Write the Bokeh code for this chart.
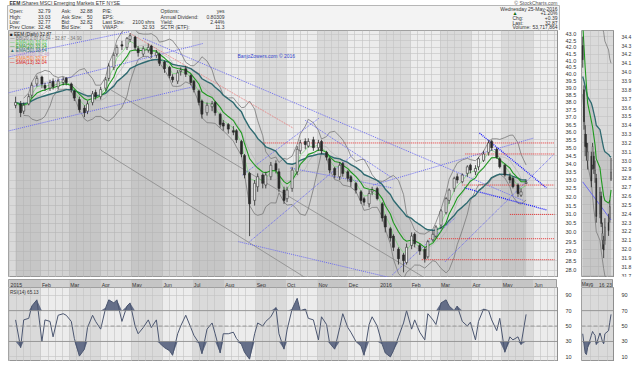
import numpy as np
import pandas as pd
from bokeh.plotting import figure
from bokeh.layouts import column, row
from bokeh.models import (Range1d, FixedTicker, DaysTicker, BoxAnnotation, Label, Span,
                          ColumnDataSource, NumeralTickFormatter)
from bokeh.embed import file_html
from bokeh.resources import INLINE
from bokeh.core.properties import value

FONT = "Liberation Sans"

# ---------------- EEM, one bar every third session, Jan 2015 - 25 May 2016 ----------------
close = [
    38.0, 37.3, 37.8, 38.4, 39.2, 39.7, 39.3,
    39.0, 39.4, 39.1, 39.5, 39.6, 39.4,
    38.9, 38.3, 37.5, 37.3, 37.9, 38.6, 38.4, 38.9,
    39.6, 40.6, 41.4, 42.0, 42.1, 42.7, 42.9,
    42.0, 41.6, 41.9, 42.0, 41.5, 41.6, 40.8,
    40.4, 39.9, 39.6, 40.1, 40.3, 40.0, 39.4,
    38.9, 38.0, 37.2, 37.8, 37.9, 37.3, 36.5, 36.4,
    36.2, 36.0, 35.5, 34.6, 33.3, 31.6, 32.8,
    33.2, 32.8, 33.3, 33.9, 33.6, 32.5, 31.8,
    32.4, 33.6, 34.9, 35.3, 35.2, 35.4, 35.0,
    35.3, 34.8, 34.4, 33.6, 33.3, 33.9, 33.4,
    33.1, 32.9, 32.4, 31.8, 31.7, 32.2, 32.4, 31.9,
    30.8, 30.3, 29.7, 29.2, 28.6, 28.5, 29.2,
    29.8, 29.4, 29.0, 28.6, 29.5, 29.9, 30.3,
    31.2, 31.9, 32.4, 33.1, 33.0, 33.3, 33.8,
    33.6, 33.7, 34.3, 34.6, 35.3, 35.0, 34.4,
    33.8, 33.3, 33.0, 32.6, 32.2, 32.3, 32.87,
]
open_ = [
    37.8, 37.9, 37.4, 37.9, 38.5, 39.3, 39.8,
    39.2, 39.0, 39.5, 39.1, 39.4, 39.7,
    39.3, 38.8, 38.2, 37.6, 37.4, 38.0, 38.7, 38.4,
    39.0, 39.7, 40.5, 41.5, 42.2, 42.0, 42.6,
    42.8, 41.9, 41.5, 41.8, 42.1, 41.4, 41.5,
    40.9, 40.5, 39.8, 39.5, 40.2, 40.4, 39.9,
    39.5, 38.8, 38.1, 37.3, 37.7, 38.0, 37.2, 36.6,
    36.5, 36.1, 36.1, 35.4, 34.5, 33.4, 31.8,
    32.6, 33.3, 32.7, 33.2, 34.0, 33.5, 32.4,
    31.9, 32.5, 33.5, 34.8, 35.4, 35.1, 35.5,
    35.0, 35.4, 34.7, 34.3, 33.7, 33.2, 34.0,
    33.5, 33.2, 32.8, 32.3, 31.9, 31.6, 32.3, 32.5,
    31.6, 30.9, 30.2, 29.8, 29.1, 28.8, 28.4,
    29.3, 29.9, 29.3, 29.1, 28.7, 29.6, 29.8,
    30.4, 31.1, 31.8, 32.5, 33.2, 32.9, 33.4,
    33.9, 33.5, 33.8, 34.2, 34.7, 35.4, 34.9,
    34.3, 33.9, 33.2, 33.1, 32.7, 32.1, 32.79,
]
high = [
    38.4, 38.1, 38.0, 38.6, 39.4, 39.9, 39.9,
    39.4, 39.6, 39.7, 39.7, 39.8, 39.8,
    39.4, 38.9, 38.4, 37.8, 38.1, 38.8, 38.9, 39.1,
    39.8, 40.8, 41.6, 42.2, 42.5, 42.8, 43.1,
    42.9, 42.1, 42.1, 42.3, 42.2, 41.8, 41.6,
    41.0, 40.6, 40.0, 40.3, 40.5, 40.6, 40.0,
    39.6, 38.9, 38.2, 38.0, 38.1, 38.1, 37.3, 36.8,
    36.6, 36.4, 36.2, 35.5, 34.6, 33.5, 33.0,
    33.4, 33.4, 33.5, 34.1, 34.2, 33.7, 32.6,
    32.6, 33.8, 35.1, 35.5, 35.6, 35.6, 35.7,
    35.5, 35.5, 34.8, 34.4, 33.8, 34.1, 34.1,
    33.6, 33.3, 32.9, 32.4, 32.0, 32.4, 32.6, 32.6,
    31.7, 31.0, 30.3, 29.9, 29.2, 28.9, 29.4,
    30.0, 30.0, 29.4, 29.2, 29.6, 30.1, 30.4,
    31.3, 32.0, 32.5, 33.2, 33.4, 33.4, 33.9,
    34.0, 33.9, 34.4, 34.8, 35.5, 35.5, 35.0,
    34.4, 34.0, 33.4, 33.2, 32.8, 32.5, 33.03,
]
low = [
    37.6, 37.0, 37.2, 37.8, 38.3, 39.1, 39.0,
    38.8, 38.8, 38.9, 38.9, 39.2, 39.2,
    38.7, 38.1, 37.3, 37.0, 37.2, 37.8, 38.2, 38.2,
    38.8, 39.5, 40.3, 41.3, 41.8, 41.8, 42.4,
    41.8, 41.3, 41.3, 41.6, 41.2, 41.2, 40.6,
    40.1, 39.7, 39.4, 39.3, 39.9, 39.8, 39.2,
    38.7, 37.8, 36.9, 37.1, 37.4, 37.1, 36.3, 36.1,
    35.9, 35.8, 35.3, 34.4, 33.1, 29.8, 31.5,
    32.3, 32.5, 32.5, 33.0, 33.4, 32.3, 31.6,
    31.7, 32.3, 33.3, 34.6, 34.9, 35.0, 34.8,
    34.8, 34.6, 34.2, 33.4, 33.1, 33.0, 33.2,
    32.9, 32.6, 32.2, 31.6, 31.5, 31.4, 32.1, 31.8,
    30.6, 30.0, 29.5, 29.0, 28.3, 27.9, 28.3,
    29.1, 29.2, 28.8, 28.4, 28.6, 29.5, 29.7,
    30.2, 31.0, 31.6, 32.3, 32.8, 32.8, 33.2,
    33.4, 33.3, 33.6, 34.1, 34.5, 34.8, 34.3,
    33.7, 33.2, 32.8, 32.5, 32.0, 32.0, 32.77,
]
rsi14 = [
    58, 22, 58, 60, 76, 84, 30, 58, 56, 36,
    64, 66, 64, 56, 34, 11, 20, 48, 64, 56,
    46, 74, 84, 80, 84, 56, 76, 80, 50, 40,
    48, 58, 48, 58, 28, 22, 18, 12, 40, 50,
    64, 48, 38, 28, 14, 46, 54, 40, 15, 40,
    40, 42, 34, 26, 16, 7, 40, 54, 50, 56,
    62, 74, 40, 20, 45, 72, 86, 70, 72, 60,
    58, 32, 62, 52, 28, 20, 48, 66, 48, 42,
    30, 24, 12, 52, 62, 50, 26, 15, 10, 18,
    36, 54, 70, 46, 58, 42, 32, 66, 58, 52,
    80, 84, 76, 70, 76, 56, 50, 55, 32, 56,
    72, 70, 58, 44, 60, 16, 36, 32, 36, 26,
    65.13,
]

month_ticks = ["2015-01-01", "2015-02-01", "2015-03-01", "2015-04-01", "2015-05-01", "2015-06-01",
               "2015-07-01", "2015-08-01", "2015-09-01", "2015-10-01", "2015-11-01", "2015-12-01",
               "2016-01-01", "2016-02-01", "2016-03-01", "2016-04-01", "2016-05-01", "2016-06-01"]
month_labels = ["2015", "Feb", "Mar", "Apr", "May", "Jun", "Jul", "Aug", "Sep", "Oct", "Nov", "Dec",
                "2016", "Feb", "Mar", "Apr", "May", "Jun"]
price_ticks = [28.0, 28.5, 29.0, 29.5, 30.0, 30.5, 31.0, 31.5, 32.0, 32.5, 33.0, 33.5, 34.0, 34.5,
               35.0, 35.5, 36.0, 36.5, 37.0, 37.5, 38.0, 38.5, 39.0, 39.5, 40.0, 40.5, 41.0, 41.5,
               42.0, 42.5, 43.0]
rsi_ticks = [10, 30, 50, 70, 90]

# ---------------- inset: May 2016 daily ----------------
mini_days = ["2016-05-02", "2016-05-03", "2016-05-04", "2016-05-05", "2016-05-06", "2016-05-09",
             "2016-05-10", "2016-05-11", "2016-05-12", "2016-05-13", "2016-05-16", "2016-05-17",
             "2016-05-18", "2016-05-19", "2016-05-20", "2016-05-23", "2016-05-24", "2016-05-25"]
mini_open = [34.30, 33.80, 33.30, 33.20, 33.00, 33.05, 32.95, 33.05, 32.85, 32.80, 32.40, 32.60,
             32.10, 32.05, 32.10, 32.30, 32.35, 32.79]
mini_close = [34.14, 33.44, 33.16, 33.15, 33.10, 32.77, 33.16, 32.91, 32.89, 32.37, 32.64, 32.29,
              32.18, 31.99, 32.25, 32.21, 32.48, 32.87]
mini_high = [34.40, 33.85, 33.40, 33.30, 33.20, 33.10, 33.20, 33.10, 33.00, 32.85, 32.70, 32.65,
             32.30, 32.15, 32.35, 32.40, 32.55, 33.03]
mini_low = [34.05, 33.35, 33.05, 33.00, 32.90, 32.70, 32.90, 32.85, 32.75, 32.30, 32.35, 32.25,
            32.00, 31.90, 32.05, 32.15, 32.30, 32.77]
mini_ema_fast = [34.55, 34.30, 34.05, 33.85, 33.65, 33.45, 33.38, 33.28, 33.18, 33.02, 32.92, 32.80,
                 32.70, 32.60, 32.55, 32.52, 32.55, 32.67]
mini_ema_slow = [33.95, 33.90, 33.84, 33.78, 33.72, 33.65, 33.60, 33.54, 33.48, 33.40, 33.35, 33.28,
                 33.21, 33.14, 33.10, 33.07, 33.05, 33.04]
mini_bb_up = [35.20, 35.10, 35.00, 34.95, 34.90, 34.85, 34.80, 34.75, 34.70, 34.65, 34.60, 34.55,
              34.50, 34.45, 34.35, 34.25, 34.15, 34.10]
mini_bb_lo = [33.75, 33.55, 33.35, 33.15, 32.95, 32.75, 32.60, 32.45, 32.35, 32.20, 32.10, 31.98,
              31.88, 31.78, 31.70, 31.64, 31.60, 31.58]
mini_rsi = [40, 27, 15, 13, 22, 38, 43, 40, 38, 26, 41, 36, 30, 27, 40, 44, 55, 65.13]
mini_ticks = ["2016-05-01", "2016-05-08", "2016-05-15", "2016-05-21"]
mini_tick_labels = ["May", "9", "16", "23"]
mini_price_ticks = [31.7, 31.8, 31.9, 32.0, 32.1, 32.2, 32.3, 32.4, 32.5, 32.6, 32.7, 32.8, 32.9, 33.0,
                    33.1, 33.2, 33.3, 33.4, 33.5, 33.6, 33.7, 33.8, 33.9, 34.0, 34.1, 34.2, 34.3, 34.4]
mini_tags = ["34.10", "33.04", "32.87", "32.67", "32.48", "32.33", "32.23"]
mini_tag_colors = ["#808080", "#2f6a70", "#222222", "#2aa02a", "#c080c0", "#4040e0", "#e03030"]
mini_trend = (["2016-05-02", "2016-05-25"], [32.76, 32.33])

# ---------------- drawn trendlines ----------------
blue_d0 = ["2014-12-31", "2014-12-31", "2014-12-31", "2015-05-13", "2015-08-26", "2015-08-19",
           "2015-08-15", "2015-10-20", "2015-10-05", "2015-12-26", "2016-03-06", "2016-01-14"]
blue_p0 = [38.67, 41.28, 36.08, 42.70, 29.50, 33.30, 29.50, 36.78, 33.73, 32.70, 28.44, 27.78]
blue_d1 = ["2015-07-11", "2015-04-30", "2015-07-01", "2016-05-22", "2015-12-06", "2015-11-03",
           "2016-02-17", "2016-01-14", "2016-01-14", "2016-06-01", "2016-06-21", "2016-03-16"]
blue_p1 = [42.30, 43.23, 39.10, 31.80, 34.55, 36.95, 27.20, 33.12, 32.53, 35.61, 34.55, 30.81]
navy_d0 = ["2016-04-09", "2016-03-25"]
navy_p0 = [35.94, 32.53]
navy_d1 = ["2016-06-14", "2016-06-14"]
navy_p1 = [32.53, 31.26]
red_level = [35.30, 34.60, 32.70, 31.00, 29.66, 28.55]
red_from = ["2015-09-08", "2016-03-26", "2016-03-23", "2016-05-09", "2016-02-19", "2016-02-12"]
red_to = ["2016-06-22", "2016-06-22", "2016-06-22", "2016-06-22", "2016-06-22", "2016-06-22"]
red_diag = (["2015-04-30", "2015-10-08"], [43.08, 36.27])
gray_d0 = ["2015-04-11", "2015-04-01"]
gray_p0 = [38.88, 34.85]
gray_d1 = ["2016-02-19", "2015-11-06"]
gray_p1 = [27.50, 27.10]

legend_text = ["\u25a0 EEM (Daily) 32.87", "\u2014 BB(20,2.0) 30.84 - 32.87 - 34.90", "\u2014 EMA(10) 33.02",
               "\u2014 EMA(20) 33.04", "\u25b2 EMA(50) 33.64", "\u2014 SMA(200) 32.48",
               "\u2014 SMA(50) 32.87", "\u2014 SMA(13) 32.04"]
legend_colors = ["#222222", "#777777", "#55cc55", "#229922", "#2f6a70", "#c8a0c8", "#ff8040", "#e02020"]

info_labels = [["Open:", "High:", "Low:", "Prev Close:"],
               ["Ask:", "Ask Size:", "Bid:", "Bid Size:"],
               ["P/E:", "EPS:", "Last Size:", "VWAP:"],
               ["Options:", "Annual Dividend:", "Yield:", "SCTR (ETF):"]]
info_values = [["32.79", "33.03", "32.77", "32.48"],
               ["32.88", "50", "32.82", "3"],
               ["", "", "2100 shrs", "32.93"],
               ["yes", "0.80309", "2.44%", "11.3"]]
quote_labels = ["", "\u25b2", "Chg:", "Last:", "Volume:"]
quote_values = ["Wednesday 25-May-2016", "+1.20%", "+0.39", "32.87", "53,717,864"]


def ms(d):
    return pd.Timestamp(d).value / 1e6


DAY = 24 * 3600 * 1000.0

# ---------------- geometry ----------------
X0, X1 = pd.Timestamp("2014-12-31"), pd.Timestamp("2016-06-25")
Y0, Y1 = 27.64, 43.31
FW, FH, RH, BH = 549, 247, 74, 10
MX0, MX1 = pd.Timestamp("2016-05-01"), pd.Timestamp("2016-05-27")
MFW = 32


def x_at(px):
    return ms(X0) + (ms(X1) - ms(X0)) * px / FW


def y_log_at(px):
    return Y1 * (Y0 / Y1) ** (px / FH)


def style_axis(ax, standoff=2):
    ax.major_label_text_font = FONT
    ax.major_label_text_font_size = "5.5px"
    ax.major_label_text_color = "#333333"
    ax.major_tick_line_color = None
    ax.minor_tick_line_color = None
    ax.axis_line_color = "#8e8e8e"
    ax.major_label_standoff = standoff


def add_bands(fig, alpha=0.075):
    for i in range(0, len(month_ticks) - 1, 2):
        fig.add_layout(BoxAnnotation(left=ms(month_ticks[i]), right=ms(month_ticks[i + 1]),
                                     fill_color="#000000", fill_alpha=alpha, line_color=None,
                                     level="image"))


def style_grid(fig):
    fig.xgrid.ticker = DaysTicker(days=[1, 8, 15, 22, 29])
    fig.grid.grid_line_color = "#c3c3c3"
    fig.grid.grid_line_width = 0.6


def new_fig(**kw):
    return figure(toolbar_location=None, output_backend="svg", border_fill_color="white",
                  outline_line_color="#8e8e8e", outline_line_width=0.8, min_border_top=0,
                  min_border_bottom=0, y_axis_location="right", **kw)


def date_band(xr, fw, ticks, labels, min_left, bands, offset_days, size):
    b = new_fig(x_axis_type="datetime", x_range=xr, y_range=Range1d(0, 1), frame_width=fw,
                frame_height=BH, min_border_left=min_left, min_border_right=0,
                background_fill_color="#d2d2d2")
    b.axis.visible = False
    b.grid.visible = False
    if bands:
        add_bands(b, 0.06)
    else:
        b.add_layout(BoxAnnotation(left=ms("2016-05-01"), right=ms("2016-06-01"), fill_color="#000000",
                                   fill_alpha=0.06, line_color=None, level="image"))
    for d, lab in zip(ticks, labels):
        b.add_layout(Label(x=ms(d) + offset_days * DAY, y=0.5, text=lab, text_font=FONT,
                           text_font_size=size, text_baseline="middle", text_color="#333333"))
    return b


dates = pd.date_range(end="2016-05-25", periods=len(close), freq="3B")
o = np.array(open_)
c = np.array(close)
s = pd.Series(close, index=dates)
ema10 = s.ewm(span=10 / 3, adjust=False).mean()
ema20 = s.ewm(span=20 / 3, adjust=False).mean()
ema50 = s.ewm(span=50 / 3, adjust=False).mean()
mid = s.rolling(7, min_periods=3).mean()
sd = s.rolling(7, min_periods=3).std(ddof=0)
bb_up = mid + 2 * sd
bb_lo = mid - 2 * sd

# ---------------- header ----------------
h = figure(width=624, height=30, x_range=Range1d(0, 624), y_range=Range1d(30, 0),
           toolbar_location=None, output_backend="svg", min_border=0,
           outline_line_color=None, background_fill_color="white", border_fill_color="white")
h.axis.visible = False
h.grid.visible = False
h.quad(left=[7], right=[559], top=[5], bottom=[30], fill_color="#f3f3f3",
       line_color="#a5a5a5", line_width=0.8)
txt = dict(text_font=value(FONT), text_font_size="5px", text_baseline="middle", text_color="#333333")
h.text(x=[9], y=[2.6], text=["EEM"], text_font_style=value("bold"), **txt)
h.text(x=[21], y=[2.6], text=["iShares MSCI Emerging Markets ETF  NYSE"], **txt)
h.text(x=[557], y=[2.6], text=["\u00a9 StockCharts.com"], text_align="right",
       text_font=value(FONT), text_font_size="5px", text_baseline="middle", text_color="#555555")
col_lab_x = [9, 61, 102, 160]
col_val_x = [50, 92, 154, 224]
row_y = [10.5, 16.0, 21.5, 26.8]
for k in range(4):
    h.text(x=[col_lab_x[k]] * 4, y=row_y, text=info_labels[k], **txt)
    h.text(x=[col_val_x[k]] * 4, y=row_y, text=info_values[k], text_align="right", **txt)
q_y = [8.2, 12.8, 17.4, 22.0, 26.6]
h.text(x=[512] * 5, y=q_y, text=quote_labels, text_font=value(FONT), text_font_size="5px",
       text_baseline="middle", text_color=["#333333", "#0a6a0a", "#333333", "#333333", "#333333"])
h.text(x=[557] * 5, y=q_y, text=quote_values, text_align="right", **txt)

# ---------------- main price panel ----------------
p = new_fig(x_axis_type="datetime", y_axis_type="log", x_range=Range1d(ms(X0), ms(X1)),
            y_range=Range1d(Y0, Y1), frame_width=FW, frame_height=FH,
            min_border_left=8, min_border_right=1, background_fill_color="#ececec")
add_bands(p)
style_grid(p)
p.xaxis.visible = False
p.yaxis.ticker = FixedTicker(ticks=price_ticks)
p.ygrid.ticker = FixedTicker(ticks=price_ticks)
p.yaxis.formatter = NumeralTickFormatter(format="0.0")
style_axis(p.yaxis[0])

AREA_FLOOR = [20.0] * len(close)
p.varea(x=dates, y1=AREA_FLOOR, y2=ema50, fill_color="#9a9a9a", fill_alpha=0.32)
p.segment(x0=[ms(d) for d in gray_d0], y0=gray_p0, x1=[ms(d) for d in gray_d1], y1=gray_p1,
          line_color="#8a8a8a", line_width=0.8)
p.line(dates, bb_up, line_color="#7a7a7a", line_width=0.8)
p.line(dates, bb_lo, line_color="#7a7a7a", line_width=0.8)
p.line(dates, mid, line_color="#b0b0b0", line_width=0.6)
p.segment(x0=[ms(d) for d in blue_d0], y0=blue_p0, x1=[ms(d) for d in blue_d1], y1=blue_p1,
          line_color="#6a6af0", line_width=1, line_dash="1 1")
p.segment(x0=[ms(d) for d in navy_d0], y0=navy_p0, x1=[ms(d) for d in navy_d1], y1=navy_p1,
          line_color="#1a1aff", line_width=1.3, line_dash="1 1")
p.segment(x0=[ms(d) for d in red_from], y0=red_level, x1=[ms(d) for d in red_to], y1=red_level,
          line_color="#e83030", line_width=1, line_dash="1 1")
p.line([ms(d) for d in red_diag[0]], red_diag[1], line_color="#e87070", line_width=0.9, line_dash="1 1")
p.line(dates, ema50, line_color="#2f6a70", line_width=1.4)
p.line(dates, ema20, line_color="#1f9a1f", line_width=1.1)
p.line(dates, ema10, line_color="#6ad66a", line_width=0.8, line_alpha=0.8)

src = ColumnDataSource(dict(x=dates, lo=low, hi=high, top=np.maximum(o, c), bot=np.minimum(o, c),
                            fill=np.where(c >= o, "#f4f4f4", "#2a2a2a").tolist()))
p.segment(x0="x", y0="lo", x1="x", y1="hi", source=src, line_color="#2a2a2a", line_width=0.8)
p.vbar(x="x", width=2.0 * DAY, top="top", bottom="bot", fill_color="fill", line_color="#2a2a2a",
       line_width=0.6, source=src)

for i, (t, col) in enumerate(zip(legend_text, legend_colors)):
    p.add_layout(Label(x=x_at(1.5), y=y_log_at(3.5 + 4.1 * i), text=t, text_color=col,
                       text_font=FONT, text_font_size="4.6px", text_baseline="middle"))
p.add_layout(Label(x=x_at(229), y=y_log_at(25), text="BanjoZowers.com \u00a9 2016",
                   text_color="#3344cc", text_font=FONT, text_font_size="5px", text_baseline="middle"))

band = date_band(p.x_range, FW, month_ticks, month_labels, 8, True, 1.0, "5.2px")

# ---------------- RSI panel ----------------
r = new_fig(x_axis_type="datetime", x_range=p.x_range, y_range=Range1d(4, 100),
            frame_width=FW, frame_height=RH, min_border_left=8, min_border_right=1,
            background_fill_color="#ececec")
add_bands(r)
style_grid(r)
r.xaxis.visible = False
r.yaxis.ticker = FixedTicker(ticks=rsi_ticks)
r.ygrid.ticker = FixedTicker(ticks=rsi_ticks)
style_axis(r.yaxis[0])
ra = np.array(rsi14, dtype=float)
r.varea(x=dates, y1=np.minimum(ra, 30), y2=[30] * len(ra), fill_color="#56627e", fill_alpha=0.9)
r.varea(x=dates, y1=[70] * len(ra), y2=np.maximum(ra, 70), fill_color="#56627e", fill_alpha=0.9)
for lvl, dash in [(70, "solid"), (30, "solid"), (50, "4 2")]:
    r.add_layout(Span(location=lvl, dimension="width", line_color="#8a8a8a", line_width=0.8,
                      line_dash=dash))
r.line(dates, rsi14, line_color="#4b5670", line_width=1)
r.add_layout(Label(x=x_at(1.5), y=97, text="RSI(14) 65.13", text_font=FONT, text_font_size="4.6px",
                   text_baseline="top", text_color="#333333"))

# ---------------- inset price ----------------
md = pd.to_datetime(mini_days)
mo = np.array(mini_open)
mc = np.array(mini_close)
m = new_fig(x_axis_type="datetime", x_range=Range1d(ms(MX0), ms(MX1)), y_range=Range1d(31.68, 34.47),
            frame_width=MFW, frame_height=FH, min_border_left=2, min_border_right=1,
            background_fill_color="#ececec")
m.add_layout(BoxAnnotation(left=ms("2016-05-01"), right=ms("2016-06-01"), fill_color="#000000",
                           fill_alpha=0.075, line_color=None, level="image"))
style_grid(m)
m.xaxis.visible = False
m.yaxis.ticker = FixedTicker(ticks=mini_price_ticks)
m.ygrid.ticker = FixedTicker(ticks=mini_price_ticks)
m.yaxis.formatter = NumeralTickFormatter(format="0.0")
style_axis(m.yaxis[0])
m.yaxis.major_label_text_font_size = "5px"
m.varea(x=md, y1=[31.0] * len(md), y2=mini_ema_slow, fill_color="#9a9a9a", fill_alpha=0.32)
m.line(md, mini_bb_up, line_color="#7a7a7a", line_width=0.8)
m.line(md, mini_bb_lo, line_color="#7a7a7a", line_width=0.8)
m.line([ms(d) for d in mini_trend[0]], mini_trend[1], line_color="#6a6af0", line_width=1)
m.line(md, mini_ema_slow, line_color="#2f6a70", line_width=1.3)
m.line(md, mini_ema_fast, line_color="#1f9a1f", line_width=1.1)
msrc = ColumnDataSource(dict(x=md, lo=mini_low, hi=mini_high, top=np.maximum(mo, mc), bot=np.minimum(mo, mc),
                             fill=np.where(mc >= mo, "#f4f4f4", "#2a2a2a").tolist()))
m.segment(x0="x", y0="lo", x1="x", y1="hi", source=msrc, line_color="#2a2a2a", line_width=0.8)
m.vbar(x="x", width=0.75 * DAY, top="top", bottom="bot", fill_color="fill",
       line_color="#2a2a2a", line_width=0.5, source=msrc)
for t, col in zip(mini_tags, mini_tag_colors):
    m.add_layout(Label(x=ms(MX1), y=float(t), text=t, text_color=col, text_font=FONT,
                       text_font_size="4.6px", text_baseline="middle", x_offset=1,
                       background_fill_color="white", border_line_color=col, border_line_width=0.6))

mband = date_band(m.x_range, MFW, mini_ticks, mini_tick_labels, 2, False, 0.3, "4.8px")

# ---------------- inset RSI ----------------
mr = new_fig(x_axis_type="datetime", x_range=m.x_range, y_range=Range1d(4, 100),
             frame_width=MFW, frame_height=RH, min_border_left=2, min_border_right=1,
             background_fill_color="#ececec")
mr.add_layout(BoxAnnotation(left=ms("2016-05-01"), right=ms("2016-06-01"), fill_color="#000000",
                            fill_alpha=0.075, line_color=None, level="image"))
style_grid(mr)
mr.xaxis.visible = False
mr.yaxis.ticker = FixedTicker(ticks=rsi_ticks)
mr.ygrid.ticker = FixedTicker(ticks=rsi_ticks)
style_axis(mr.yaxis[0])
mra = np.array(mini_rsi, dtype=float)
mr.varea(x=md, y1=np.minimum(mra, 30), y2=[30] * len(mra), fill_color="#56627e", fill_alpha=0.9)
for lvl, dash in [(70, "solid"), (30, "solid"), (50, "4 2")]:
    mr.add_layout(Span(location=lvl, dimension="width", line_color="#8a8a8a", line_width=0.8,
                       line_dash=dash))
mr.line(md, mini_rsi, line_color="#4b5670", line_width=1)
mr.add_layout(Label(x=ms(MX1), y=65.13, text="65.13", text_color="#333333", text_font=FONT,
                    text_font_size="4.6px", text_baseline="middle", x_offset=1,
                    background_fill_color="white", border_line_color="#666666", border_line_width=0.6))

layout = column(h, row(column(p, band, r), column(m, mband, mr)))
open("out.html", "w").write(file_html(layout, INLINE))
